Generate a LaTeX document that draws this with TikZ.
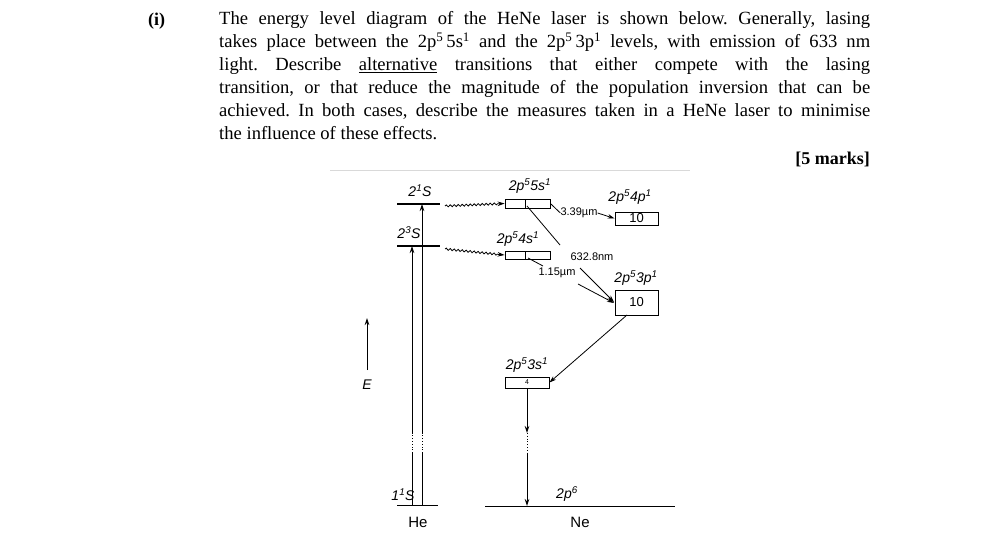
\documentclass[tikz,border=0pt]{standalone}
\usepackage{fontspec}
\setmainfont{Liberation Serif}
\newfontfamily\lab{Liberation Sans}
\usetikzlibrary{arrows.meta,decorations.pathmorphing}
\begin{document}
\begin{tikzpicture}[x=1pt,y=-1pt,
  lvl/.style={line width=1.6pt},
  bx/.style={draw,line width=0.8pt},
  lt/.style={font=\lab\itshape\fontsize{14}{14}\selectfont,inner sep=0pt},
  st/.style={font=\lab\fontsize{11}{11}\selectfont,inner sep=0pt},
  ar/.style={-{Stealth[length=7pt,width=4.5pt]},line width=0.8pt},
  wv/.style={ar,decorate,decoration={snake,amplitude=1pt,segment length=4pt,post length=6pt}}]
\useasboundingbox (0,0) rectangle (1008,559);
\node[anchor=north west,inner sep=0pt,font=\bfseries\fontsize{18}{18}\selectfont] (num) at (148,13) {(i)};
\node[anchor=north west,inner sep=0pt,text width=651pt,align=justify,font=\fontsize{18.6}{23}\selectfont] (para) at (219,11)
{\frenchspacing\hyphenpenalty=10000 The energy level diagram of the HeNe laser is shown below. Generally, lasing\linebreak takes place between the 2p\textsuperscript{5}\,5s\textsuperscript{1} and the 2p\textsuperscript{5}\,3p\textsuperscript{1} levels, with emission of 633 nm\linebreak light. Describe \underline{alternative} transitions that either compete with the lasing\linebreak transition, or that reduce the magnitude of the population inversion that can be\linebreak achieved. In both cases, describe the measures taken in a HeNe laser to minimise\linebreak the influence of these effects.};
\node[anchor=north east,inner sep=0pt,font=\bfseries\fontsize{18}{18}\selectfont] (marks) at (870,152) {[5 marks]};
\draw[gray!30,line width=0.8pt] (330,170) -- (690,170);
% He
\draw[lvl] (397,204) -- (440,204);
\draw[lvl] (397,246) -- (440,246);
\draw[line width=1pt] (397,505) -- (438,505);
\node[lt] (l21) at (420,191) {2\textsuperscript{1}S};
\node[lt] (l23) at (409,233) {2\textsuperscript{3}S};
\node[lt] (l11) at (403,495) {1\textsuperscript{1}S};
\node[inner sep=0pt,font=\lab\fontsize{15}{15}\selectfont] (he) at (418,522) {He};
\foreach \x/\yt in {412/246,422/204}{
  \draw[ar] (\x,433) -- (\x,\yt);
  \draw[line width=0.8pt] (\x,505) -- (\x,453);
  \draw[line width=0.8pt,dotted] (\x,453) -- (\x,433);}
% E
\draw[ar] (367,370) -- (367,318);
\node[lt] (e) at (367,385) {E};
% Ne boxes
\node[bx,minimum width=45pt,minimum height=9pt,inner sep=0pt] (b5s) at (527.5,203.5) {};
\draw[line width=0.8pt] (525,199) -- (525,208);
\node[bx,minimum width=45pt,minimum height=8pt,inner sep=0pt] (b4s) at (527.5,255) {};
\draw[line width=0.8pt] (525,251) -- (525,259);
\node[bx,minimum width=43pt,minimum height=13pt,inner sep=0pt,font=\lab\fontsize{13}{13}\selectfont] (b4p) at (636.5,218.5) {10};
\node[bx,minimum width=43pt,minimum height=25pt,inner sep=0pt,font=\lab\fontsize{13}{13}\selectfont] (b3p) at (636.5,302.5) {10};
\node[bx,minimum width=44pt,minimum height=11pt,inner sep=0pt,font=\lab\fontsize{7}{7}\selectfont] (b3s) at (527,382.5) {4};
\node[lt] (l5s) at (530,186) {2p\textsuperscript{5}5s\textsuperscript{1}};
\node[lt] (l4s) at (518,239) {2p\textsuperscript{5}4s\textsuperscript{1}};
\node[lt] (l4p) at (630,197) {2p\textsuperscript{5}4p\textsuperscript{1}};
\node[lt] (l3p) at (636,278) {2p\textsuperscript{5}3p\textsuperscript{1}};
\node[lt] (l3s) at (527,365) {2p\textsuperscript{5}3s\textsuperscript{1}};
\draw[line width=1pt] (485,506) -- (675,506);
\node[lt] (l2p6) at (567,494) {2p\textsuperscript{6}};
\node[inner sep=0pt,font=\lab\fontsize{15}{15}\selectfont] (ne) at (580,522) {Ne};
% wavy
\draw[wv] (445,206) -- (b5s.west);
\draw[wv] (445,249) -- (b4s.west);
% transitions
\node[st] (t339) at (579,213) {3.39\textmu m};
\draw[line width=0.8pt] (b5s.east) -- (t339.west);
\draw[ar] (t339.east) -- (b4p.west);
\node[st] (t632) at (592,257) {632.8nm};
\draw[line width=0.8pt] (527,206) -- (560,245);
\draw[ar] (580,268) -- (614,302);
\node[st] (t115) at (557,273) {1.15\textmu m};
\draw[line width=0.8pt] (528,258) -- (543,266);
\draw[ar] (578,284) -- (614,303);
\draw[ar] (627,315) -- (b3s.east);
\draw[ar] (527,388) -- (527,433);
\draw[line width=0.8pt,dotted] (527,433) -- (527,453);
\draw[ar] (527,453) -- (527,506);
\end{tikzpicture}
\end{document}
